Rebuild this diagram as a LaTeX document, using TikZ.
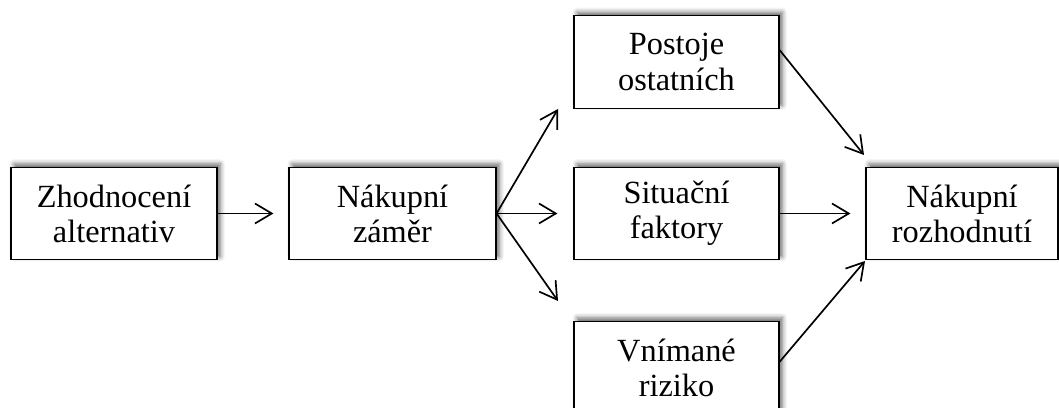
\documentclass[tikz,border=0pt]{standalone}
\usepackage{fontspec}
\setmainfont{Liberation Serif}
\usetikzlibrary{arrows.meta,shadows.blur}
\begin{document}
\begin{tikzpicture}[>={Straight Barb[length=4.2mm,width=5mm]},
  stage/.style={draw, line width=0.8pt, fill=white, minimum height=2.32cm,
    align=center, inner sep=0pt, font=\fontsize{23}{25}\selectfont,
    blur shadow={shadow xshift=0.8mm, shadow yshift=0.8mm,
      shadow blur radius=1.2mm, shadow opacity=60}},
  link/.style={->, line width=1.2pt}]
  \useasboundingbox (0,0) rectangle (26.475,10.2);

  % Stages of the decision
  \node[stage, minimum width=5.15cm]  (eval)   at (2.85,4.8625)    {Zhodnocení\\alternativ};
  \node[stage, minimum width=5.175cm] (intent) at (9.8125,4.8625)  {Nákupní\\záměr};
  \node[stage, minimum width=5.125cm] (others) at (16.9125,8.65)   {Postoje\\ostatních};
  \node[stage, minimum width=5.125cm] (situ)   at (16.9125,4.8625) {Situační\\faktory};
  \node[stage, minimum width=5.125cm] (risk)   at (16.9125,1.0125) {Vnímané\\riziko};
  \node[stage, minimum width=4.8cm]   (decide) at (24.05,4.8625)   {Nákupní\\rozhodnutí};

  % Arrow tips
  \coordinate (tipA) at (13.95,7.475);
  \coordinate (tipB) at (13.95,2.675);
  \coordinate (tipC) at (21.6,6.325);
  \coordinate (tipD) at (21.625,3.675);

  \draw[link, shorten >=3.75mm] (eval.east) -- (intent.west);
  \draw[link] (intent.east) -- (tipA);
  \draw[link, shorten >=4mm] (intent.east) -- (situ.west);
  \draw[link] (intent.east) -- (tipB);
  \draw[link] ([yshift=3mm]others.east) -- (tipC);
  \draw[link, shorten >=3.75mm] (situ.east) -- (decide.west);
  \draw[link] ([yshift=1.4mm]risk.east) -- (tipD);
\end{tikzpicture}
\end{document}
